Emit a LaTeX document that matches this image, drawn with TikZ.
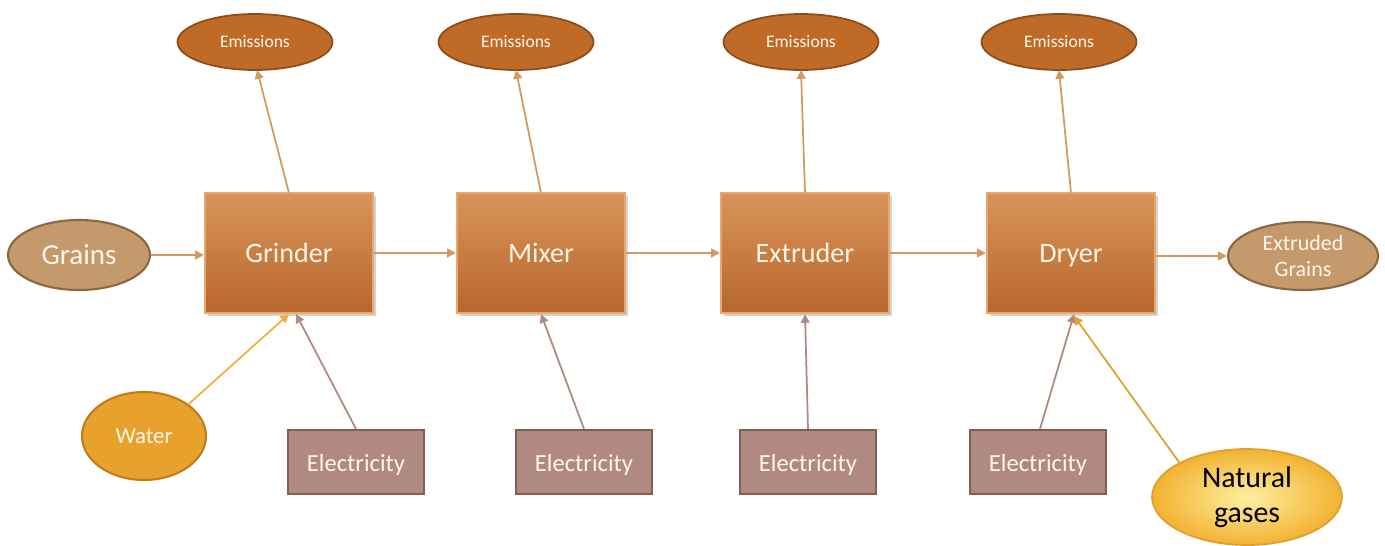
\documentclass[tikz,border=0pt]{standalone}
\usepackage{fontspec}
\setmainfont{Carlito}
\usetikzlibrary{shapes.geometric,arrows.meta,shadows}
\definecolor{boxtop}{HTML}{D8945A}
\definecolor{boxbot}{HTML}{B8672C}
\definecolor{boxedge}{HTML}{E6A86C}
\definecolor{emfill}{HTML}{C06A28}
\definecolor{emedge}{HTML}{8E4E1A}
\definecolor{grfill}{HTML}{C49A6C}
\definecolor{gredge}{HTML}{8C6840}
\definecolor{wafill}{HTML}{E9A12E}
\definecolor{waedge}{HTML}{C27E1A}
\definecolor{elfill}{HTML}{B08A80}
\definecolor{eledge}{HTML}{875C52}
\definecolor{ngin}{HTML}{FFF0A0}
\definecolor{ngout}{HTML}{F2B232}
\definecolor{ngedge}{HTML}{E0A030}
\definecolor{arrmain}{HTML}{D29A62}
\definecolor{arrel}{HTML}{B08A80}
\definecolor{arrwa}{HTML}{F0B040}
\definecolor{txt}{HTML}{FFF6E8}
\tikzset{
  procbox/.style={rectangle, draw=boxedge, line width=1.2pt, top color=boxtop, bottom color=boxbot,
    minimum width=3.36cm, minimum height=2.4cm, inner sep=0pt, text=txt, font=\fontsize{16}{18}\selectfont,
    text height=2.3ex, text depth=0pt,
    drop shadow={shadow xshift=0.06cm, shadow yshift=-0.06cm, opacity=0.35}},
  emis/.style={ellipse, draw=emedge, line width=1pt, fill=emfill, minimum width=3.1cm, minimum height=1.12cm,
    inner sep=0pt, text=txt, font=\fontsize{10}{12}\selectfont},
  grainell/.style={ellipse, draw=gredge, line width=1.2pt, fill=grfill, inner sep=0pt, text=txt},
  waterell/.style={ellipse, draw=waedge, line width=1.2pt, fill=wafill, minimum width=2.48cm, minimum height=1.76cm,
    inner sep=0pt, text=txt, font=\fontsize{13}{15}\selectfont},
  elbox/.style={rectangle, draw=eledge, line width=1.2pt, fill=elfill, minimum width=2.72cm, minimum height=1.28cm,
    inner sep=0pt, text=txt, font=\fontsize{14}{16}\selectfont, text height=2.2ex, text depth=0pt},
  gasell/.style={ellipse, draw=ngedge, line width=1pt, inner color=ngin, outer color=ngout,
    minimum width=3.8cm, minimum height=1.92cm, inner sep=0pt, text=black, font=\fontsize{17}{20}\selectfont, align=center},
  arr/.style={-{Triangle[length=5pt,width=5pt]}, line width=1pt, draw=arrmain},
  elarr/.style={-{Triangle[length=5pt,width=5pt]}, line width=1pt, draw=arrel},
  waarr/.style={-{Triangle[length=5pt,width=5pt]}, line width=1pt, draw=arrwa},
}
\begin{document}
\begin{tikzpicture}[x=0.02cm,y=-0.02cm]
\useasboundingbox (0,0) rectangle (1385,545);
% process boxes
\node[procbox] (grinder) at (289,253) {Grinder};
\node[procbox] (mixer) at (541,253) {Mixer};
\node[procbox] (extruder) at (805,253) {Extruder};
\node[procbox] (dryer) at (1071,253) {Dryer};
% emissions
\node[emis] (em1) at (255,42) {Emissions};
\node[emis] (em2) at (516,42) {Emissions};
\node[emis] (em3) at (801,42) {Emissions};
\node[emis] (em4) at (1059,42) {Emissions};
% inputs/outputs
\node[grainell, minimum width=2.84cm, minimum height=1.4cm, font=\fontsize{16.5}{19}\selectfont] (grains) at (79,255) {Grains};
\node[grainell, minimum width=3.0cm, minimum height=1.36cm, font=\fontsize{12.5}{14.5}\selectfont, align=center] (out) at (1303,256) {Extruded\\Grains};
\node[waterell] (water) at (144,436) {Water};
\node[elbox] (el1) at (356,462) {Electricity};
\node[elbox] (el2) at (584,462) {Electricity};
\node[elbox] (el3) at (808,462) {Electricity};
\node[elbox] (el4) at (1038,462) {Electricity};
\node[gasell] (gas) at (1247,497) {Natural\\gases};
% coordinates for arrow ends
\coordinate (g1) at (289,193); \coordinate (e1) at (257,70);
\coordinate (g2) at (541,193); \coordinate (e2) at (516,70);
\coordinate (g3) at (805,193); \coordinate (e3) at (801,70);
\coordinate (g4) at (1071,193); \coordinate (e4) at (1059,70);
% main flow
\draw[arr] (grains.east) -- (grinder.west |- grains.east);
\draw[arr] (grinder) -- (mixer);
\draw[arr] (mixer) -- (extruder);
\draw[arr] (extruder) -- (dryer);
\draw[arr] (dryer.east |- out.west) -- (out.west);
% emissions
\draw[arr] (g1) -- (e1);
\draw[arr] (g2) -- (e2);
\draw[arr] (g3) -- (e3);
\draw[arr] (g4) -- (e4);
% electricity
\coordinate (b1) at (296,314); \coordinate (b2) at (541,314); \coordinate (b3) at (805,314); \coordinate (b4) at (1074,314);
\coordinate (b1w) at (289,314); \coordinate (b4g) at (1074,316);
\draw[elarr] (el1.north) -- (b1);
\draw[elarr] (el2.north) -- (b2);
\draw[elarr] ([xshift=0.04cm]el4.north) -- (b4);
\draw[elarr] (el3.north) -- (b3);
\draw[waarr] (water.north east) -- (b1w);
\draw[arr, draw=ngedge] (gas.north west) -- (b4g);
\end{tikzpicture}
\end{document}
